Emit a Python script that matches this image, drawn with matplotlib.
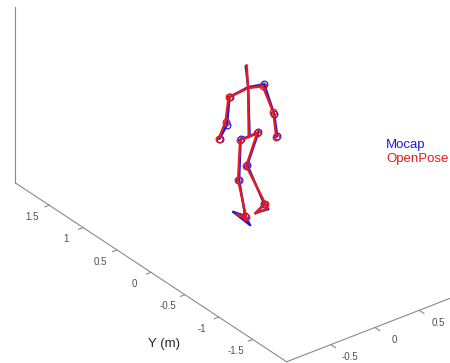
import numpy as np
import matplotlib
matplotlib.use("Agg")
import matplotlib.pyplot as plt
from mpl_toolkits.mplot3d import proj3d

# ---------------- data ----------------
joints = ["head", "neck", "shoulderA", "elbowA", "wristA", "shoulderB", "elbowB", "wristB",
          "midhip", "hipA", "kneeA", "ankleA", "toeA", "heelA",
          "hipB", "kneeB", "ankleB", "toeB", "heelB"]

mocap_x = [0.225, 0.253, 0.043, 0.014, -0.071, 0.435, 0.548, 0.583,
           0.270, 0.168, 0.151, 0.219, 0.197, 0.219,
           0.370, 0.370, 0.448, 0.375, 0.498]
mocap_y = [0.200, 0.200, 0.200, 0.200, 0.200, 0.200, 0.200, 0.200,
           0.200, 0.200, 0.200, 0.200, 0.099, 0.376,
           0.200, 0.365, 0.217, 0.241, 0.223]
mocap_z = [1.765, 1.515, 1.485, 1.178, 1.053, 1.477, 1.091, 0.827,
           0.952, 0.953, 0.499, 0.063, 0.020, 0.020,
           0.957, 0.500, 0.100, 0.020, 0.020]

openpose_x = [0.236, 0.253, 0.031, -0.003, -0.082, 0.418, 0.537, 0.571,
              0.259, 0.162, 0.139, 0.230, 0.236, 0.220,
              0.355, 0.352, 0.460, 0.360, 0.496]
openpose_y = [0.200, 0.200, 0.200, 0.200, 0.200, 0.200, 0.200, 0.200,
              0.200, 0.200, 0.200, 0.200, 0.193, 0.319,
              0.200, 0.357, 0.218, 0.235, 0.236]
openpose_z = [1.772, 1.504, 1.484, 1.219, 1.058, 1.461, 1.118, 0.820,
              0.945, 0.949, 0.504, 0.047, 0.020, 0.020,
              0.952, 0.500, 0.100, 0.020, 0.020]

bones = [(0, 1), (1, 2), (2, 3), (3, 4), (1, 5), (5, 6), (6, 7), (1, 8),
         (8, 9), (9, 10), (10, 11), (11, 12), (11, 13), (12, 13),
         (8, 14), (14, 15), (15, 16), (16, 17), (16, 18), (17, 18)]
marker_joints = [2, 3, 4, 5, 6, 7, 9, 10, 11, 14, 15, 16]

x_ticks = [-0.5, 0, 0.5]
y_ticks = [-1.5, -1, -0.5, 0, 0.5, 1, 1.5]
x_lim = (-1, 1)
y_lim = (-2, 2)
z_lim = (0, 2)
y_label = "Y (m)"
series_names = ["Mocap", "OpenPose"]
series_colors = ["#1a1ae6", "#e61a1a"]

# ---------------- figure ----------------
plt.rcParams['font.family'] = ['Liberation Sans', 'DejaVu Sans']
fig = plt.figure(figsize=(4.5, 3.63), dpi=100)
ax = fig.add_axes([-0.0646, -0.1528, 1.1616, 1.44], projection='3d', proj_type='ortho',
                  computed_zorder=False)
ax.view_init(elev=30.4, azim=-127.5)
ax.set_xlim(*x_lim)
ax.set_ylim(*y_lim)
ax.set_zlim(*z_lim)
ax.set_box_aspect((x_lim[1] - x_lim[0], y_lim[1] - y_lim[0], 0.915 * (z_lim[1] - z_lim[0])))
ax.set_axis_off()

axis_col = "#8a8a8a"
# axis lines
ax.plot([x_lim[0], x_lim[0]], [y_lim[0], y_lim[1]], [z_lim[0], z_lim[0]], color=axis_col, lw=0.8)
ax.plot([x_lim[0], x_lim[1]], [y_lim[0], y_lim[0]], [z_lim[0], z_lim[0]], color=axis_col, lw=0.8)
ax.plot([x_lim[0], x_lim[0]], [y_lim[1], y_lim[1]], [z_lim[0], z_lim[1]], color=axis_col, lw=0.8)

# tick marks
for t in y_ticks:
    ax.plot([x_lim[0], x_lim[0] - 0.05], [t, t], [0, 0], color=axis_col, lw=0.8)
for t in x_ticks:
    ax.plot([t, t], [y_lim[0], y_lim[0] - 0.07], [0, 0], color=axis_col, lw=0.8)

# skeletons
handles = []
for (xs, ys, zs), col, name in zip([(mocap_x, mocap_y, mocap_z),
                                    (openpose_x, openpose_y, openpose_z)],
                                   series_colors, series_names):
    for n, (i, j) in enumerate(bones):
        ln, = ax.plot([xs[i], xs[j]], [ys[i], ys[j]], [zs[i], zs[j]], color=col, lw=1.7,
                      solid_capstyle='round')
        if n == 0:
            handles.append(ln)
    ax.plot([xs[k] for k in marker_joints], [ys[k] for k in marker_joints],
            [zs[k] for k in marker_joints], 'o', ms=4.8, mfc='none', mec=col, mew=0.9)

# tick labels and axis label: project 3D anchor points to the 2D axes space
fig.canvas.draw()
M = ax.get_proj()


def label3d(x, y, z, s, **kw):
    x2, y2, _ = proj3d.proj_transform(x, y, z, M)
    ax.text2D(x2, y2, s, transform=ax.transData, ha='center', va='center', **kw)


for t in y_ticks:
    label3d(x_lim[0] - 0.19, t, -0.06, f"{t:g}", fontsize=7, color="#505050")
for t in x_ticks:
    label3d(t, y_lim[0] - 0.28, 0.0, f"{t:g}", fontsize=7, color="#505050")
label3d(-1.67, -1.06, -0.02, y_label, fontsize=9.5, color="#262626")

fig.legend(handles, series_names, loc='upper left',
           bbox_to_anchor=(386 / 450, 1 - 139 / 363), bbox_transform=fig.transFigure,
           frameon=False, handlelength=0, handletextpad=0, borderpad=0, borderaxespad=0,
           labelspacing=0.15, fontsize=9.5, labelcolor=series_colors)

fig.savefig("out.png", dpi=100)
